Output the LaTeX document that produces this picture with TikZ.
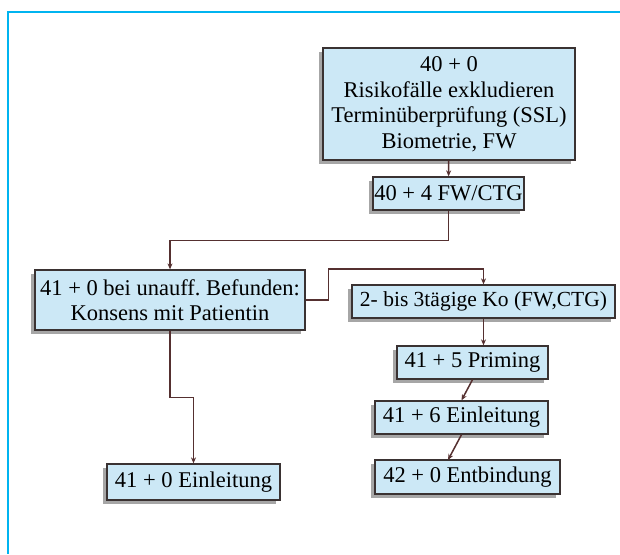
\documentclass[tikz,border=0pt]{standalone}
\usepackage{fontspec}
\setmainfont{Liberation Serif}
\usetikzlibrary{positioning,shadows,arrows.meta}
\definecolor{boxfill}{HTML}{CCE8F6}
\definecolor{boxline}{HTML}{3A3232}
\definecolor{linkline}{HTML}{553030}
\definecolor{framecol}{HTML}{00B4F0}
\frenchspacing

\begin{document}
\begin{tikzpicture}
    [x=1pt,y=-1pt,>={Stealth[length=6pt,width=5pt]},
     every node/.style={draw=boxline, line width=1.3pt, fill=boxfill, text=black, align=center, inner sep=0pt,
       font=\fontsize{22.5}{25.5}\selectfont,
       drop shadow={shadow xshift=-4pt, shadow yshift=-4pt, fill=black, opacity=0.35}},
     link/.style={draw=linkline, line width=1.5pt, ->}]
  \useasboundingbox (0,0) rectangle (620,554);
  \draw[framecol, line width=1.5pt] (620,12) -- (8,12) -- (8,554);

  \node[minimum width=252, minimum height=112] (n1) at (449,104) {40 + 0\\Risikofälle exkludieren\\Terminüberprüfung (SSL)\\Biometrie, FW};
  \node[minimum width=151, minimum height=33] (n2) at (448.5,193.5) {40 + 4 FW/CTG};
  \node[minimum width=270, minimum height=60] (n3) at (170,300) {41 + 0 bei unauff. Befunden:\\Konsens mit Patientin};
  \node[minimum width=263, minimum height=33, font=\fontsize{21.5}{25.5}\selectfont] (n4) at (483.5,301.5) {2- bis 3tägige Ko (FW,CTG)};
  \node[minimum width=151, minimum height=33] (n5) at (472.5,362.5) {41 + 5 Priming};
  \node[minimum width=173, minimum height=33] (n6) at (461.5,417.5) {41 + 6 Einleitung};
  \node[minimum width=185, minimum height=34] (n7) at (467.5,477) {42 + 0 Entbindung};
  \node[minimum width=173, minimum height=36] (n8) at (193.5,482) {41 + 0 Einleitung};

  \coordinate (n7in) at (448,460);

  \draw[link] (n1) -- (n2);
  \draw[link] (n2.south) -- ++(0,30) -| (n3.north);
  \draw[link] (n3.east) -| ++(23,-31) -| (n4.north);
  \draw[link] (n4.south) -- (n4.south |- n5.north);
  \draw[link] (n5.south) -- (n6.north);
  \draw[link] (n6.south) -- (n7in);
  \draw[link] (n3.south) -- ++(0,67) -| (n8.north);
\end{tikzpicture}
\end{document}
